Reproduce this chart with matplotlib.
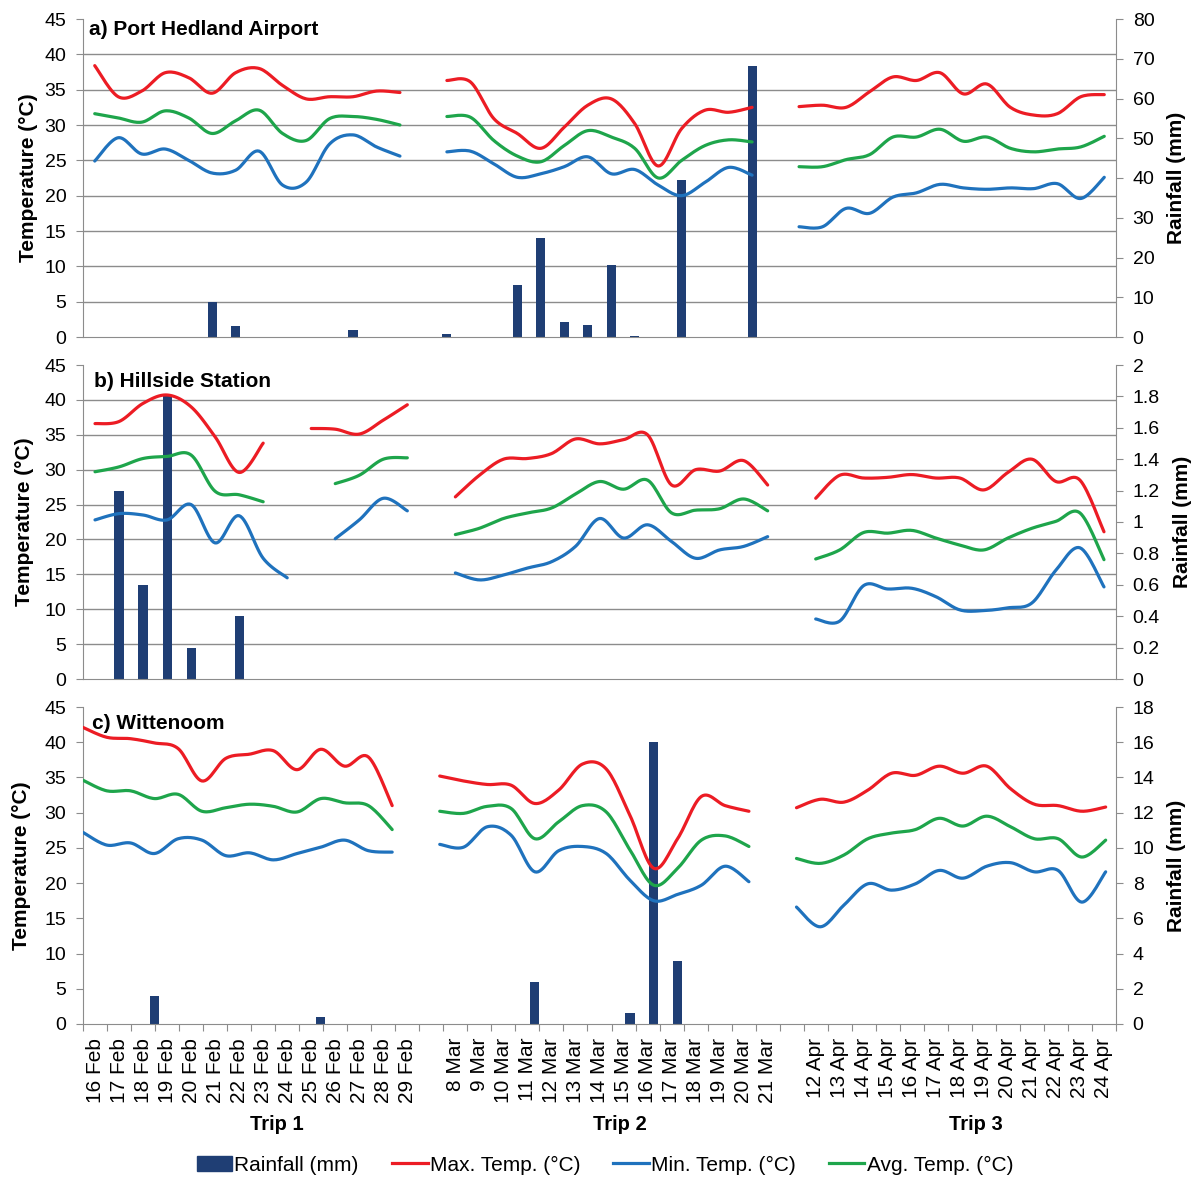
import numpy as np
import matplotlib
matplotlib.use('Agg')
import matplotlib.pyplot as plt
from matplotlib.ticker import FixedLocator, FormatStrFormatter
from matplotlib.patches import Patch
from matplotlib.lines import Line2D

plt.rcParams['font.family'] = ['Liberation Sans', 'DejaVu Sans']

N = None

# category labels (blank slot between trips)
trip1 = ['%d Feb' % d for d in range(16, 30)]
trip2 = ['%d Mar' % d for d in range(8, 22)]
trip3 = ['%d Apr' % d for d in range(12, 25)]
dates = trip1 + [''] + trip2 + [''] + trip3
trip_names = ['Trip 1', 'Trip 2', 'Trip 3']

# a) Port Hedland Airport (44 slots)
a_max = [38.4, 34.0, 34.8, 37.4, 36.7, 34.5, 37.4, 38.0, 35.6, 33.7, 34.0, 34.0, 34.8, 34.6, N,
         36.3, 36.1, 30.9, 28.8, 26.7, 29.7, 32.8, 33.7, 30.2, 24.2, 29.5, 32.1, 31.8, 32.5, N,
         32.6, 32.8, 32.5, 34.7, 36.8, 36.3, 37.4, 34.4, 35.8, 32.5, 31.4, 31.6, 34.0, 34.3]
a_avg = [31.6, 31.0, 30.4, 32.0, 31.0, 28.8, 30.6, 32.1, 28.8, 27.8, 30.9, 31.2, 30.8, 30.0, N,
         31.2, 31.1, 27.8, 25.6, 24.8, 27.1, 29.2, 28.3, 26.7, 22.5, 25.0, 27.1, 27.9, 27.6, N,
         24.1, 24.1, 25.1, 25.8, 28.3, 28.3, 29.4, 27.7, 28.3, 26.7, 26.2, 26.6, 26.9, 28.4]
a_min = [24.9, 28.2, 25.9, 26.6, 25.0, 23.2, 23.6, 26.3, 21.5, 21.9, 27.3, 28.6, 26.9, 25.6, N,
         26.2, 26.3, 24.5, 22.6, 23.1, 24.1, 25.5, 23.1, 23.7, 21.5, 20.0, 21.9, 24.0, 22.9, N,
         15.6, 15.6, 18.2, 17.5, 19.8, 20.4, 21.6, 21.1, 20.9, 21.1, 21.0, 21.7, 19.6, 22.6]
a_rain = [0, 0, 0, 0, 0, 8.8, 2.7, 0, 0, 0, 0, 1.7, 0, 0, N,
          0.8, 0, 0, 13.0, 24.8, 3.8, 2.9, 18.1, 0.2, 0, 39.4, 0, 0, 68.3, N,
          0, 0, 0, 0, 0, 0, 0, 0, 0, 0, 0, 0, 0, 0]

# b) Hillside Station (43 slots)
b_max = [36.6, 36.9, 39.5, 40.7, 39.0, 34.7, 29.6, 33.8, N, 35.9, 35.8, 35.1, 37.1, 39.3, N,
         26.1, 29.2, 31.5, 31.6, 32.3, 34.4, 33.7, 34.3, 35.0, 27.8, 30.0, 29.8, 31.3, 27.8, N,
         25.9, 29.2, 28.8, 28.9, 29.3, 28.8, 28.8, 27.1, 29.6, 31.5, 28.3, 28.5, 21.1]
b_avg = [29.7, 30.4, 31.6, 31.9, 32.1, 26.9, 26.4, 25.4, N, N, 28.0, 29.2, 31.5, 31.7, N,
         20.7, 21.6, 23.0, 23.8, 24.5, 26.5, 28.3, 27.2, 28.5, 23.8, 24.2, 24.4, 25.8, 24.1, N,
         17.2, 18.5, 21.0, 20.9, 21.3, 20.2, 19.2, 18.5, 20.2, 21.6, 22.6, 23.8, 17.1]
b_min = [22.8, 23.7, 23.5, 22.8, 25.0, 19.5, 23.4, 17.3, 14.5, N, 20.1, 22.8, 25.9, 24.1, N,
         15.2, 14.2, 14.9, 15.9, 16.8, 19.0, 23.0, 20.2, 22.1, 19.7, 17.3, 18.5, 19.0, 20.4, N,
         8.6, 8.3, 13.4, 12.9, 13.0, 11.8, 9.9, 9.8, 10.2, 10.9, 15.6, 18.8, 13.2]
b_rain = [0, 1.2, 0.6, 1.8, 0.2, 0, 0.4, 0, 0, 0, 0, 0, 0, 0, N,
          0, 0, 0, 0, 0, 0, 0, 0, 0, 0, 0, 0, 0, 0, N,
          0, 0, 0, 0, 0, 0, 0, 0, 0, 0, 0, 0, 0]

# c) Wittenoom (44 slots)
c_max = [42.1, 40.7, 40.5, 39.9, 39.1, 34.5, 37.7, 38.3, 38.8, 36.1, 39.0, 36.6, 37.9, 31.0, N,
         35.2, 34.5, 34.0, 33.9, 31.3, 33.2, 36.9, 36.2, 29.6, 22.1, 26.3, 32.3, 31.0, 30.2, N,
         30.7, 31.9, 31.5, 33.2, 35.6, 35.3, 36.6, 35.6, 36.6, 33.4, 31.2, 31.0, 30.2, 30.8]
c_avg = [34.6, 33.1, 33.1, 32.0, 32.6, 30.2, 30.7, 31.2, 30.9, 30.1, 32.0, 31.4, 31.0, 27.6, N,
         30.2, 29.9, 30.9, 30.6, 26.3, 28.7, 31.0, 30.1, 24.7, 19.7, 22.1, 26.1, 26.7, 25.2, N,
         23.5, 22.8, 24.0, 26.3, 27.1, 27.6, 29.2, 28.1, 29.5, 28.0, 26.3, 26.3, 23.7, 26.1]
c_min = [27.2, 25.4, 25.7, 24.2, 26.3, 26.1, 23.9, 24.3, 23.3, 24.2, 25.1, 26.1, 24.6, 24.4, N,
         25.5, 25.1, 28.0, 26.8, 21.6, 24.6, 25.2, 24.2, 20.4, 17.5, 18.4, 19.7, 22.4, 20.2, N,
         16.6, 13.8, 16.9, 19.9, 19.0, 19.9, 21.8, 20.7, 22.4, 22.9, 21.6, 21.8, 17.3, 21.6]
c_rain = [0, 0, 0, 1.6, 0, 0, 0, 0, 0, 0, 0.4, 0, 0, 0, N,
          0, 0, 0, 0, 2.4, 0, 0, 0, 0.6, 16.0, 3.6, 0, 0, 0, N,
          0, 0, 0, 0, 0, 0, 0, 0, 0, 0, 0, 0, 0, 0]

RED = '#ec1c24'
BLUE = '#1f72bd'
GREEN = '#1ea54b'
NAVY = '#1f3e74'
GREY = '#8c8c8c'


def smooth(xs, ys, steps=16):
    # Excel-like smoothed line (Catmull-Rom as Bezier)
    P = np.column_stack([xs, ys]).astype(float)
    if len(P) < 2:
        return P[:, 0], P[:, 1]
    E = np.vstack([P[0], P, P[-1]])
    t = np.linspace(0, 1, steps)[1:, None]
    out = [P[0]]
    for i in range(len(P) - 1):
        p0, p1, p2, p3 = E[i], E[i + 1], E[i + 2], E[i + 3]
        c1 = p1 + (p2 - p0) / 6
        c2 = p2 - (p3 - p1) / 6
        seg = (1 - t) ** 3 * p1 + 3 * (1 - t) ** 2 * t * c1 + 3 * (1 - t) * t ** 2 * c2 + t ** 3 * p2
        out.extend(seg)
    out = np.array(out)
    return out[:, 0], out[:, 1]


def draw_line(ax, xpos, vals, color):
    run_x, run_y = [], []
    for x, v in list(zip(xpos, vals)) + [(None, None)]:
        if v is None:
            if run_x:
                sx, sy = smooth(run_x, run_y)
                ax.plot(sx, sy, color=color, lw=2.3, solid_capstyle='round', zorder=3)
            run_x, run_y = [], []
        else:
            run_x.append(x)
            run_y.append(v)


fig = plt.figure(figsize=(11.98, 11.78), dpi=100)
L = 83 / 1198.
W = 1033 / 1198.

panels = [
    ('a) Port Hedland Airport', a_max, a_min, a_avg, a_rain, 80, 10, '%g',
     [(i + 0.5) * 43 / 44. for i in range(44)], (337, 318), (0.006, 0.996), -0.044, 1.049),
    ('b) Hillside Station', b_max, b_min, b_avg, b_rain, 2, 0.2, '%g',
     [i + 0.5 for i in range(43)], (679, 314), (0.011, 0.978), -0.047, 1.055),
    ('c) Wittenoom', c_max, c_min, c_avg, c_rain, 18, 2, '%g',
     [i * 0.99 for i in range(44)], (1024, 317), (0.009, 0.978), -0.05, 1.049),
]

for k, (title, tmax, tmin, tavg, rain, rmax, rstep, fmt, xpos, (ybot, h), tpos, ylx, ryx) in enumerate(panels):
    ax = fig.add_axes([L, (1178 - ybot) / 1178., W, h / 1178.])
    ax2 = ax.twinx()
    ax.set_zorder(ax2.get_zorder() + 1)
    ax.patch.set_visible(False)

    ax.set_xlim(0, 43)
    ax.set_ylim(0, 45)
    ax.set_yticks(np.arange(0, 46, 5))
    ax2.set_ylim(0, rmax)
    ax2.set_yticks(np.arange(0, rmax + rstep / 2, rstep))
    ax2.yaxis.set_major_formatter(FormatStrFormatter(fmt))

    # gridlines of the temperature axis, drawn behind the bars
    ax2.yaxis.set_minor_locator(FixedLocator([v * rmax / 45. for v in range(0, 46, 5)]))
    ax2.grid(True, which='minor', axis='y', color=GREY, lw=1)
    ax2.tick_params(axis='y', which='minor', length=0)

    bx = [x for x, r in zip(xpos, rain) if r]
    bh = [r for r in rain if r]
    ax2.bar(bx, bh, width=0.38, color=NAVY, zorder=2)

    draw_line(ax, xpos, tmax, RED)
    draw_line(ax, xpos, tmin, BLUE)
    draw_line(ax, xpos, tavg, GREEN)

    for s in ['top', 'right']:
        ax.spines[s].set_visible(False)
    for s in ['top', 'left', 'bottom']:
        ax2.spines[s].set_visible(False)
    for s in ['left', 'bottom']:
        ax.spines[s].set_color(GREY)
    ax2.spines['right'].set_color(GREY)

    ax.tick_params(axis='y', labelsize=14, length=5, color=GREY, pad=7)
    ax2.tick_params(axis='y', which='major', labelsize=14, length=5, color=GREY, pad=7)

    ax.set_ylabel('Temperature (°C)', fontsize=15, fontweight='bold')
    ax.yaxis.set_label_coords(ylx, 0.5)
    ax2.set_ylabel('Rainfall (mm)', fontsize=15, fontweight='bold')
    ax2.yaxis.set_label_coords(ryx, 0.5)

    ax.text(tpos[0], tpos[1], title, transform=ax.transAxes, fontsize=15,
            fontweight='bold', va='top', ha='left', zorder=5)

    if k < 2:
        ax.tick_params(axis='x', bottom=False, labelbottom=False)
    else:
        ax.set_xticks(range(44))
        ax.set_xticklabels([])
        ax.xaxis.set_minor_locator(FixedLocator([i + 0.5 for i in range(43)]))
        ax.set_xticklabels(dates, minor=True, rotation=90, fontsize=15)
        ax.tick_params(axis='x', which='major', length=5, color=GREY)
        ax.tick_params(axis='x', which='minor', length=0, pad=10)

for name, xc in zip(trip_names, [277, 620, 976]):
    fig.text(xc / 1198., 0.045, name, ha='center', va='center', fontsize=14.5, fontweight='bold')

handles = [Patch(color=NAVY), Line2D([], [], color=RED, lw=2.3),
           Line2D([], [], color=BLUE, lw=2.3), Line2D([], [], color=GREEN, lw=2.3)]
labels = ['Rainfall (mm)', 'Max. Temp. (°C)', 'Min. Temp. (°C)', 'Avg. Temp. (°C)']
fig.legend(handles, labels, loc='center', bbox_to_anchor=(0.505, 13 / 1178.), ncol=4,
           frameon=False, fontsize=15, handlelength=1.7, handletextpad=0.1,
           columnspacing=1.6, handleheight=0.7)

fig.savefig('out.png', dpi=100)
